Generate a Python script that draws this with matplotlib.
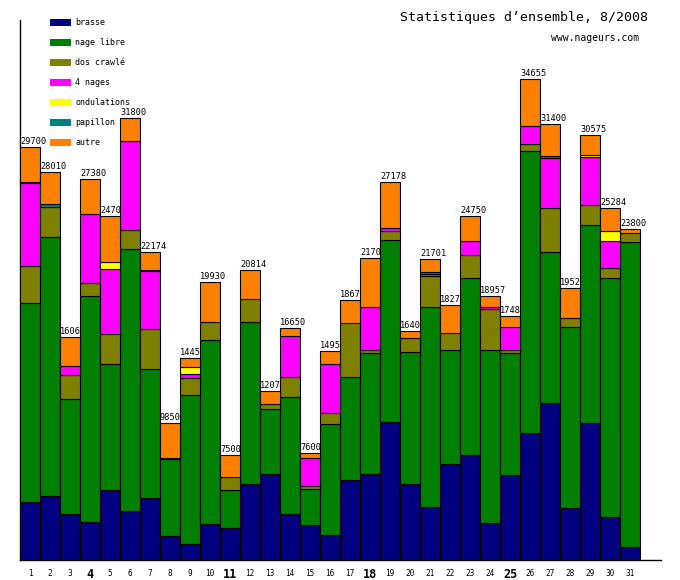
import matplotlib
matplotlib.use("Agg")
import matplotlib.pyplot as plt
from matplotlib.patches import Rectangle
import numpy as np

days = [str(d) for d in range(1, 32)]
series_names = ["brasse", "nage libre", "dos crawlé", "4 nages", "ondulations", "papillon", "autre"]
colors = ["#000080", "#008000", "#808000", "#ff00ff", "#ffff00", "#008080", "#ff8000"]

brasse = [4150, 4590, 3290, 2710, 5020, 3510, 4440, 1710, 1130, 2570, 2280, 5450, 6170, 3290, 2500, 1780,
          5740, 6190, 9910, 5450, 3790, 6890, 7540, 2640, 6100, 9120, 11280, 3720, 9840, 3070, 910]
nage_libre = [14330, 18650, 8280, 16270, 9070, 18910, 9290, 5590, 10730, 13250, 2740, 11660, 4680, 8420, 2610, 7990,
              7420, 8690, 13100, 9500, 14400, 8210, 12740, 12460, 8780, 20300, 10870, 13030, 14260, 17210, 21960]
dos_crawle = [2690, 2160, 1730, 940, 2160, 1330, 2880, 50, 1220, 1300, 940, 1660, 360, 1440, 190, 790,
              3890, 240, 650, 1010, 2230, 1220, 1660, 2950, 220, 500, 3190, 650, 1440, 720, 650]
quatre_nages = [5950, 0, 670, 4970, 4680, 6410, 4180, 0, 310, 0, 0, 0, 0, 2950, 2020, 3530,
                0, 3070, 220, 0, 190, 0, 1010, 170, 1660, 1300, 3620, 0, 3480, 1940, 0]
ondulations = [0, 50, 0, 0, 500, 0, 100, 0, 480, 0, 0, 0, 0, 0, 0, 0,
               0, 0, 0, 0, 0, 0, 0, 0, 0, 0, 0, 0, 120, 720, 0]
papillon = [80, 190, 0, 0, 0, 0, 0, 0, 0, 0, 0, 0, 0, 0, 0, 0,
            0, 0, 0, 0, 100, 0, 0, 0, 0, 0, 100, 0, 0, 0, 0]
autre = [2570, 2300, 2110, 2520, 3310, 1660, 1320, 2520, 650, 2880, 1580, 2090, 940, 580, 360, 940,
         1680, 3530, 3310, 500, 990, 2020, 1800, 770, 790, 3380, 2300, 2160, 1440, 1660, 290]
totals = [29700, 28010, 16060, 27380, 24700, 31800, 22174, 9850, 14450, 19930, 7500, 20814, 12070, 16650, 7600, 14950,
          18670, 21700, 27178, 16400, 21701, 18270, 24750, 18957, 17480, 34655, 31400, 19520, 30575, 25284, 23800]
bold_days = ["4", "11", "18", "25"]

series = [brasse, nage_libre, dos_crawle, quatre_nages, ondulations, papillon, autre]

W, H = 680, 580
fig = plt.figure(figsize=(W / 100, H / 100), dpi=100)
ax = fig.add_axes([20 / W, 20 / H, 641 / W, 540 / H])
ax.set_xlim(0, 641 / 20)
ax.set_ylim(0, 540 * 72)

mono = "DejaVu Sans Mono"
x = np.arange(len(days))
bottom = np.zeros(len(days))
for vals, col in zip(series, colors):
    v = np.array(vals, dtype=float)
    mask = v > 0
    ax.bar(x[mask], v[mask], width=1, bottom=bottom[mask], align="edge",
           color=col, edgecolor="black", linewidth=0.8, zorder=3)
    bottom += v

# total labels (drawn under the bars so a taller neighbour hides the overflow)
for i, t in enumerate(totals):
    ax.annotate(str(t), (x[i], bottom[i]), xytext=(0, 1), textcoords="offset pixels",
                ha="left", va="bottom", fontsize=6.2, family=mono, zorder=2)

# x labels
ax.set_xticks([])
ax.set_yticks([])
for i, d in enumerate(days):
    if d in bold_days:
        ax.text(x[i] + 0.5, -14 / 540, d, transform=ax.get_xaxis_transform(),
                ha="center", va="center", fontsize=8.5, fontweight="bold", family=mono)
    else:
        ax.text(x[i] + 0.5, -14 / 540, d, transform=ax.get_xaxis_transform(),
                ha="center", va="center", fontsize=5.6, family=mono)

for s in ["top", "right"]:
    ax.spines[s].set_visible(False)
for s in ["left", "bottom"]:
    ax.spines[s].set_linewidth(1.0)
    ax.spines[s].set_color("black")

# legend
for k, (name, col) in enumerate(zip(series_names, colors)):
    yc = 22.5 + 20 * k
    fig.patches.append(Rectangle((50 / W, 1 - (yc + 3.5) / H), 21 / W, 7 / H,
                                 transform=fig.transFigure, facecolor=col, edgecolor="none"))
    fig.text(75 / W, 1 - yc / H, name, ha="left", va="center", fontsize=6.0, family=mono)

fig.text(400 / W, 1 - 17.5 / H, "Statistiques d\u2019ensemble, 8/2008", ha="left", va="center",
         fontsize=9.5, family=mono)
fig.text(639 / W, 1 - 38 / H, "www.nageurs.com", ha="right", va="center", fontsize=7.0, family=mono)

fig.savefig("out.png", dpi=100)
